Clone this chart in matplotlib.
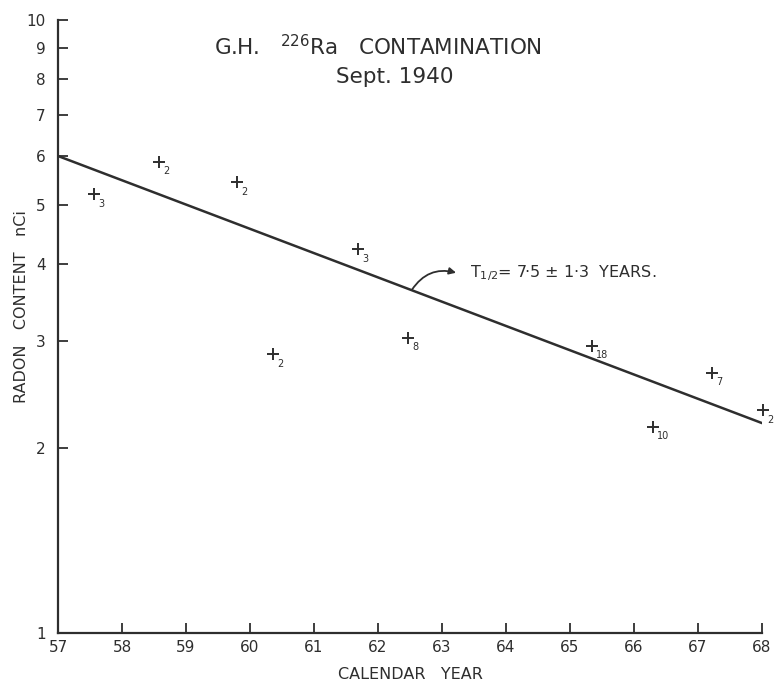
import numpy as np
import matplotlib.pyplot as plt
from matplotlib.ticker import FixedLocator, NullLocator

INK = '#2e2e2e'

# measurements (year, radon content in nCi, number of samples)
years = [57.56, 58.58, 59.80, 60.36, 61.69, 62.47, 65.34, 66.30, 67.22, 68.02]
radon = [5.2, 5.87, 5.44, 2.85, 4.23, 3.03, 2.94, 2.17, 2.66, 2.31]
counts = ['3', '2', '2', '2', '3', '8', '18', '10', '7', '2']

# fitted exponential (straight on log paper)
fit_years = [57, 68]
fit_radon = [6.0, 2.2]

xticks = list(range(57, 69))
yticks = list(range(1, 11))

fig = plt.figure(figsize=(7.74, 6.82), dpi=100)
ax = fig.add_axes([58/774, 49/682, 704/774, 613/682])

ax.set_yscale('log')
ax.set_xlim(57, 68)
ax.set_ylim(1, 10)

ax.plot(fit_years, fit_radon, color=INK, lw=1.8, solid_capstyle='round')
ax.plot(years, radon, ls='none', marker='+', ms=9, mew=1.4, color=INK, clip_on=False)
for x, y, n in zip(years, radon, counts):
    ax.annotate(n, (x, y), xytext=(3, -9), textcoords='offset points',
                fontsize=7, color=INK, annotation_clip=False)

# half-life label with curved arrow leaving the fit line
ax.annotate('', xy=(63.22, 3.87), xytext=(62.53, 3.63),
            arrowprops=dict(arrowstyle='-|>', color=INK, lw=1.3, shrinkA=0, shrinkB=0,
                            connectionstyle='arc3,rad=-0.35', mutation_scale=10))
ax.text(63.44, 3.87, 'T$_{1/2}$= 7·5 ± 1·3  YEARS.', fontsize=11.5, color=INK,
        va='center')

ax.spines[['top', 'right']].set_visible(False)
for s in ['left', 'bottom']:
    ax.spines[s].set_color(INK)
    ax.spines[s].set_linewidth(1.6)

ax.xaxis.set_major_locator(FixedLocator(xticks))
ax.set_xticklabels([str(t) for t in xticks])
ax.yaxis.set_major_locator(FixedLocator(yticks))
ax.yaxis.set_minor_locator(NullLocator())
ax.set_yticklabels([str(t) for t in yticks])
ax.tick_params(direction='in', length=7, width=1.3, color=INK, labelcolor=INK,
               labelsize=11)
ax.tick_params(axis='y', pad=9)
ax.tick_params(axis='x', pad=5)

ax.set_xlabel('CALENDAR   YEAR', fontsize=11.5, color=INK, labelpad=9)
ax.set_ylabel('RADON   CONTENT   nCi', fontsize=11.5, color=INK, va='center')
ax.yaxis.set_label_coords(-0.052, 0.532)

fig.text(0.488, 0.931, 'G.H.   $^{226}$Ra   CONTAMINATION', ha='center', va='center',
         fontsize=15.5, color=INK)
fig.text(0.51, 0.887, 'Sept. 1940', ha='center', va='center', fontsize=15.5, color=INK)

fig.savefig('out.png', dpi=100, facecolor='white')
